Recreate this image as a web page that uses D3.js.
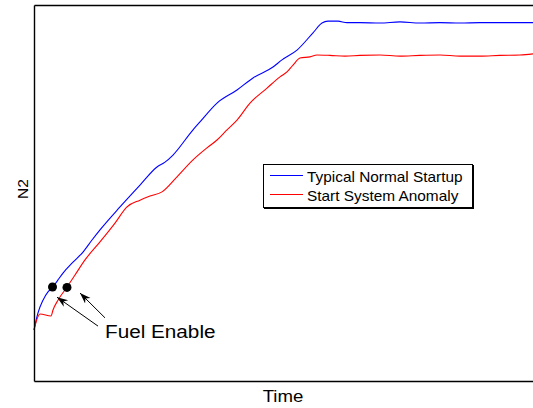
<!DOCTYPE html>
<html><head><meta charset="utf-8">
<script src="https://cdn.jsdelivr.net/npm/d3@7"></script>
<style>body{margin:0;background:#fff;overflow:hidden}text{font-family:"Liberation Sans",Arial,sans-serif;fill:#000}</style>
</head><body>
<script>
// Data (time in s, N2 in %)
const normalTime = [0,0.8,1.8,2.8,3.8,4.8,5.8,7.8,9.8,11.6,13.2,17.2,21.2,24.6,26.2,27.8,31.8,33.2,36.6,40.6,43.8,47.8,49.6,52.6,55.8,57.6,58.8,60.8,62.6,65.2,69.2,73.2,77.2,81.2,85.2,89.2,93.2,99.8];
const normalN2   = [13.6,18.1,21.5,23.7,25.0,26.9,28.7,31.6,34.3,37.5,40.2,46.3,52.1,56.9,58.2,60.1,66.8,68.9,73.9,77.4,80.6,83.5,85.4,88.0,92.6,95.2,95.7,95.7,95.3,95.3,95.2,95.5,95.2,95.3,95.2,95.3,95.3,95.3];
const anomalyTime = [0,1.2,3.4,3.8,4.8,6.6,8.2,10.2,13.2,16.2,18.6,21.2,23.2,25.6,28.6,31.8,34.6,36.6,38.6,40.6,43.2,46.6,49.2,50.6,51.8,53.2,55.2,56.6,59.2,62.2,65.2,69.2,73.2,77.2,81.2,85.2,89.2,93.2,97.2,99.8];
const anomalyN2   = [13.6,17.8,17.3,18.9,21.5,25.0,28.2,32.2,37.0,42.0,46.3,48.1,49.2,50.3,54.3,58.8,62.0,64.1,66.8,69.4,73.9,77.9,80.9,82.2,84.0,85.9,86.2,86.7,86.6,86.4,86.6,86.7,86.4,86.6,86.7,86.4,86.4,86.6,86.7,87.0];
const seriesNames = ["Typical Normal Startup","Start System Anomaly"];
const seriesColors = ["#0000ff","#ff0000"];
const fuelEnableTime = [3.7, 6.6];
const fuelEnableN2 = [25.0, 24.9];
const arrowTail = [[12.8,14.6],[14.2,16.8]];
const arrowHead = [[4.6,22.3],[9.2,23.4]];
const annotationText = "Fuel Enable";
const annotationPos = [14.2, 11.4];

const W = 533, H = 408;
const svg = d3.select("body").append("svg").attr("width", W).attr("height", H);
const x = d3.scaleLinear().domain([0,100]).range([34, 534]);
const y = d3.scaleLinear().domain([0,100]).range([381, 5]);

svg.append("defs").append("marker").attr("id","ah").attr("viewBox","0 0 10 10")
  .attr("refX",10).attr("refY",5).attr("markerWidth",11).attr("markerHeight",11)
  .attr("markerUnits","userSpaceOnUse").attr("orient","auto")
  .append("path").attr("d","M0,1.5 L10,5 L0,8.5 L3,5 Z").attr("fill","#000");

const line = d3.line().x(d=>x(d[0])).y(d=>y(d[1])).curve(d3.curveMonotoneX);
const series = [d3.zip(normalTime, normalN2), d3.zip(anomalyTime, anomalyN2)];
series.forEach((s,i)=>{
  svg.append("path").datum(s).attr("d", line).attr("fill","none")
    .attr("stroke", seriesColors[i]).attr("stroke-width",1.1);
});

// axes frame (no ticks)
svg.append("g").attr("transform","translate(0,381)").call(d3.axisBottom(x).tickValues([]).tickSizeOuter(0))
  .call(g=>g.select(".domain").attr("stroke","#000").attr("stroke-width",1.4));
svg.append("g").attr("transform","translate(34,0)").call(d3.axisLeft(y).tickValues([]).tickSizeOuter(0))
  .call(g=>g.select(".domain").attr("stroke","#000").attr("stroke-width",1.4));
svg.append("g").attr("transform","translate(0,5)").call(d3.axisTop(x).tickValues([]).tickSizeOuter(0))
  .call(g=>g.select(".domain").attr("stroke","#000").attr("stroke-width",1.4));

// dots
svg.selectAll("circle.fe").data(d3.zip(fuelEnableTime, fuelEnableN2)).join("circle")
  .attr("cx",d=>x(d[0])).attr("cy",d=>y(d[1])).attr("r",4.5).attr("fill","#000");
// arrows
arrowTail.forEach((t,i)=>{
  svg.append("line").attr("x1",x(t[0])).attr("y1",y(t[1]))
    .attr("x2",x(arrowHead[i][0])).attr("y2",y(arrowHead[i][1]))
    .attr("stroke","#000").attr("stroke-width",1).attr("marker-end","url(#ah)");
});
svg.append("text").attr("transform",`translate(${x(annotationPos[0])},${y(annotationPos[1])}) scale(1.12,1)`)
  .attr("font-size",18.5).text(annotationText);

// legend
const lg = svg.append("g");
lg.append("rect").attr("x",264).attr("y",165).attr("width",210).attr("height",44).attr("fill","#000");
lg.append("rect").attr("x",263.5).attr("y",164.5).attr("width",209).attr("height",43).attr("fill","#fff").attr("stroke","#000").attr("stroke-width",1);
seriesNames.forEach((n,i)=>{
  const yy = 175.5 + i*19;
  lg.append("line").attr("x1",270).attr("x2",303).attr("y1",yy).attr("y2",yy).attr("stroke",seriesColors[i]).attr("stroke-width",1);
  lg.append("text").attr("transform",`translate(307,${yy+6}) scale(1.1,1)`).attr("font-size",14).text(n);
});

// axis labels
svg.append("text").attr("transform","translate(283,402) scale(1.13,1)").attr("text-anchor","middle").attr("font-size",16.5).text("Time");
svg.append("text").attr("transform","translate(28,189) rotate(-90)").attr("text-anchor","middle").attr("font-size",15.5).text("N2");
</script>
</body></html>
